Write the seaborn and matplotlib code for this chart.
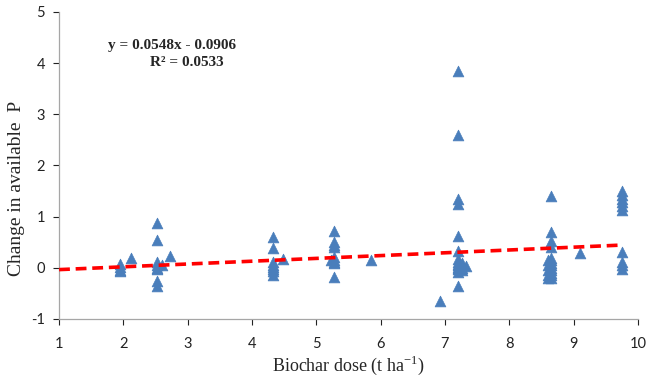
import numpy as np
import pandas as pd
import matplotlib
matplotlib.use("Agg")
import matplotlib.pyplot as plt
import seaborn as sns

# biochar dose (t/ha) groups and the change in available P
dose_195 = [0.08, 0.02, -0.05, -0.07]
dose_212 = [0.2]
dose_252 = [0.87, 0.55, 0.12, 0.05, 0.0, -0.02, -0.25, -0.35]
dose_260 = [0.05]
dose_272 = [0.23]
dose_433 = [0.6, 0.38, 0.12, 0.06, 0.02, -0.03, -0.06, -0.15]
dose_448 = [0.18]
dose_522 = [0.15]
dose_527 = [0.72, 0.5, 0.45, 0.4, 0.22, 0.15, 0.12, 0.1, -0.18]
dose_585 = [0.15]
dose_693 = [-0.65]
dose_720 = [3.85, 2.6, 1.35, 1.25, 0.62, 0.32, 0.18, 0.12, 0.08, 0.05, 0.02, 0.0, -0.03, -0.08, -0.35]
dose_727 = [0.1, 0.05, 0.0, -0.05]
dose_733 = [0.03]
dose_860 = [0.15, 0.05, -0.05, -0.15, -0.2]
dose_865 = [1.4, 0.7, 0.52, 0.4, 0.2, 0.15, 0.1, 0.05, 0.0, -0.05, -0.1, -0.15, -0.2]
dose_910 = [0.28]
dose_975 = [1.5, 1.42, 1.35, 1.28, 1.2, 1.12, 0.3, 0.12, 0.05, -0.03]

groups = {
    1.95: dose_195, 2.12: dose_212, 2.52: dose_252, 2.60: dose_260, 2.72: dose_272,
    4.33: dose_433, 4.48: dose_448, 5.22: dose_522, 5.27: dose_527, 5.85: dose_585,
    6.93: dose_693, 7.20: dose_720, 7.27: dose_727, 7.33: dose_733,
    8.60: dose_860, 8.65: dose_865, 9.10: dose_910, 9.75: dose_975,
}

# trend line as reported on the chart
slope = 0.0548
intercept = -0.0906
r2 = 0.0533
line_x = [1.0, 9.75]

df = pd.DataFrame([(d, v) for d, vals in groups.items() for v in vals],
                  columns=["dose", "dP"])

sns.set_style("white")
plt.rcParams['font.family'] = ['Lato', 'DejaVu Sans']
plt.rcParams['axes.unicode_minus'] = False
plt.rcParams['mathtext.fontset'] = 'custom'
plt.rcParams['mathtext.rm'] = 'Liberation Serif'

fig = plt.figure(figsize=(6.49, 3.82), dpi=100)
ax = fig.add_axes([0.091, 0.165, 0.892, 0.804])

sns.scatterplot(data=df, x="dose", y="dP", marker="^", s=60, color="#4a7ebb",
                edgecolor="#4a7ebb", linewidth=0.5, ax=ax, zorder=3)

lx = np.array(line_x)
ax.plot(lx, slope * lx + intercept, color="#ff0000", linestyle=(0, (3, 1.6)),
        linewidth=2.6, zorder=4)

ax.set_xlim(1, 10)
ax.set_ylim(-1, 5)
ax.set_xticks(range(1, 11))
ax.set_yticks(range(-1, 6))
ax.tick_params(axis="both", labelsize=10.5, colors="#222222", length=4,
               width=0.8, direction="out", bottom=True, left=True, pad=6)
ax.tick_params(axis="x", pad=9)
for side in ["top", "right"]:
    ax.spines[side].set_visible(False)
for side in ["left", "bottom"]:
    ax.spines[side].set_color("#a6a6a6")
    ax.spines[side].set_linewidth(0.9)

ax.set_xlabel(r"Biochar dose (t ha$^{\mathregular{-1}}$)", fontsize=13,
              family="Liberation Serif", labelpad=2)
ax.set_ylabel("")
fig.text(17 / 649, 1 - 188 / 382, "Change in available  P", rotation=90,
         ha="center", va="center", fontsize=14, family="Liberation Serif")

fig.text(172 / 649, 1 - 45 / 382, f"y = {slope}x - {abs(intercept)}",
         ha="center", va="center", fontsize=11, fontweight="bold",
         family="Liberation Serif")
fig.text(187 / 649, 1 - 62 / 382, f"R² = {r2}",
         ha="center", va="center", fontsize=11, fontweight="bold",
         family="Liberation Serif")

fig.savefig("out.png", dpi=100)
